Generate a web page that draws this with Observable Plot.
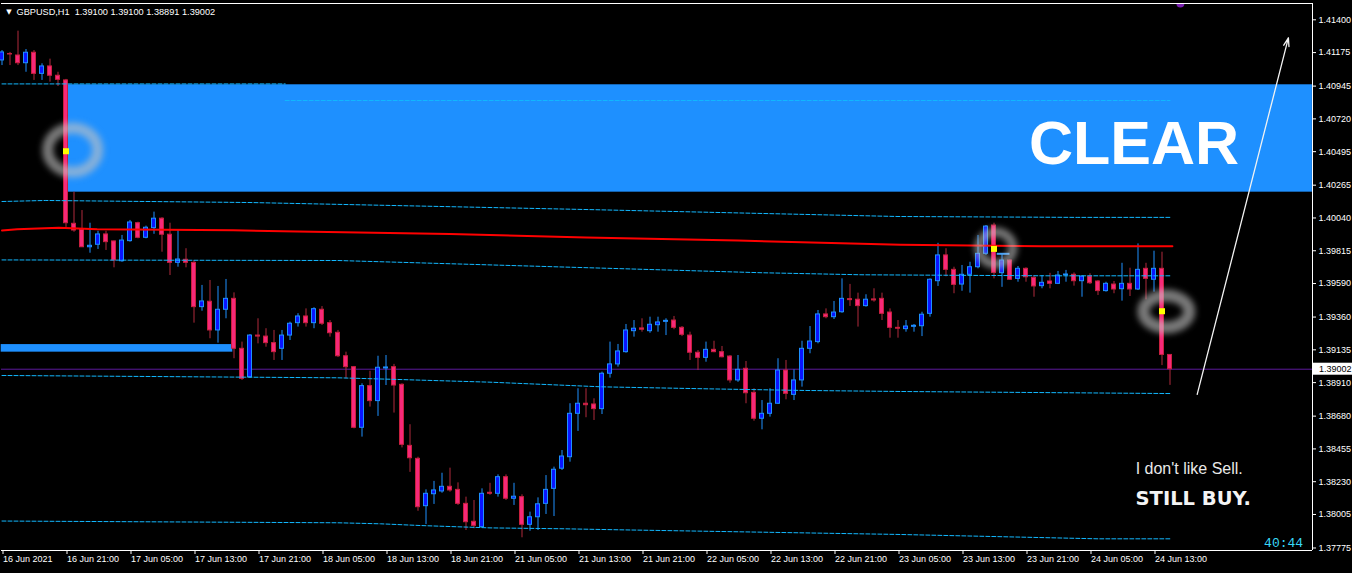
<!DOCTYPE html>
<html><head><meta charset="utf-8">
<script src="https://cdn.jsdelivr.net/npm/d3@7"></script>
<script src="https://cdn.jsdelivr.net/npm/@observablehq/plot@0.6"></script>
<style>
html,body{margin:0;padding:0;background:#000;overflow:hidden;}
#chart{position:absolute;left:0;top:0;}
</style></head><body><div id="chart"></div>
<script>
// ---------- DATA (GBPUSD H1, bar 0 = 16 Jun 2021 13:00) ----------
const symbol = "GBPUSD,H1";
const open = [1.41121,1.41165,1.41155,1.41102,1.41174,1.41029,1.41080,1.41016,1.40984,1.40000,
1.39959,1.39839,1.39856,1.39927,1.39879,1.39743,1.39881,1.40004,1.39904,1.39970,
1.40035,1.39925,1.39732,1.39753,1.39732,1.39428,1.39465,1.39268,1.39410,1.39485,
1.39142,1.38947,1.39233,1.39226,1.39181,1.39142,1.39233,1.39318,1.39364,1.39318,
1.39410,1.39318,1.39252,1.39091,1.39016,1.38600,1.38886,1.38783,1.39007,1.39016,
1.38895,1.38476,1.38387,1.38062,1.38144,1.38163,1.38195,1.38174,1.38078,1.37955,
1.37918,1.38154,1.38147,1.38261,1.38113,1.38124,1.37934,1.37986,1.38078,1.38181,
1.38319,1.38398,1.38696,1.38765,1.38760,1.38728,1.38971,1.39035,1.39119,1.39263,
1.39282,1.39263,1.39304,1.39327,1.39336,1.39286,1.39233,1.39115,1.39080,1.39135,
1.39119,1.39089,1.38925,1.39005,1.38840,1.38662,1.38696,1.38765,1.38993,1.38826,
1.38925,1.39142,1.39188,1.39378,1.39359,1.39393,1.39483,1.39479,1.39435,1.39481,
1.39485,1.39391,1.39286,1.39277,1.39293,1.39297,1.39382,1.39606,1.39783,1.39684,
1.39583,1.39650,1.39702,1.39794,1.39988,1.39661,1.39748,1.39622,1.39691,1.39629,
1.39572,1.39604,1.39588,1.39647,1.39650,1.39606,1.39638,1.39604,1.39538,1.39583,
1.39551,1.39588,1.39549,1.39691,1.39616,1.39691,1.39100];
const high = [1.41189,1.41176,1.41322,1.41196,1.41189,1.41098,1.41130,1.41040,1.40991,1.40217,
1.40091,1.40004,1.39949,1.39949,1.39882,1.39920,1.40023,1.40011,1.39984,1.40080,
1.40042,1.40004,1.39959,1.39829,1.39748,1.39577,1.39611,1.39570,1.39618,1.39526,
1.39188,1.39240,1.39348,1.39280,1.39268,1.39268,1.39325,1.39383,1.39416,1.39424,
1.39432,1.39336,1.39268,1.39119,1.39021,1.38902,1.38988,1.39091,1.39096,1.39035,
1.38902,1.38621,1.38398,1.38174,1.38232,1.38288,1.38323,1.38222,1.38124,1.38101,
1.38181,1.38219,1.38277,1.38277,1.38219,1.38140,1.38021,1.38119,1.38272,1.38330,
1.38444,1.38765,1.38868,1.38868,1.38799,1.38982,1.39188,1.39172,1.39309,1.39336,
1.39348,1.39359,1.39359,1.39348,1.39364,1.39295,1.39256,1.39130,1.39188,1.39194,
1.39158,1.39096,1.39096,1.39055,1.38868,1.38787,1.38868,1.39074,1.39062,1.38998,
1.39194,1.39295,1.39405,1.39416,1.39467,1.39622,1.39584,1.39524,1.39513,1.39554,
1.39524,1.39416,1.39336,1.39336,1.39309,1.39393,1.39622,1.39866,1.39829,1.39702,
1.39714,1.39736,1.39920,1.39988,1.40004,1.39794,1.39753,1.39707,1.39698,1.39645,
1.39645,1.39660,1.39673,1.39680,1.39663,1.39642,1.39657,1.39611,1.39599,1.39604,
1.39729,1.39695,1.39862,1.39729,1.39812,1.39805,1.39100];
const low = [1.41086,1.41086,1.41086,1.41040,1.40984,1.40984,1.40972,1.40942,1.39975,1.39942,
1.39837,1.39798,1.39824,1.39817,1.39698,1.39736,1.39874,1.39897,1.39897,1.39928,
1.39805,1.39645,1.39702,1.39698,1.39318,1.39400,1.39211,1.39181,1.39348,1.39074,
1.38925,1.38939,1.39176,1.39153,1.39062,1.39062,1.39199,1.39291,1.39291,1.39280,
1.39302,1.39222,1.39082,1.38936,1.38593,1.38536,1.38742,1.38678,1.38890,1.38701,
1.38462,1.38294,1.38027,1.37936,1.38074,1.38151,1.38158,1.38067,1.37895,1.37907,
1.37911,1.38137,1.38124,1.38101,1.38067,1.37845,1.37890,1.37895,1.38005,1.37991,
1.38307,1.38364,1.38575,1.38669,1.38650,1.38691,1.38941,1.39016,1.39112,1.39222,
1.39256,1.39249,1.39256,1.39233,1.39273,1.39226,1.39062,1.38993,1.39050,1.39115,
1.39080,1.38906,1.38912,1.38765,1.38645,1.38586,1.38673,1.38760,1.38792,1.38787,
1.38879,1.39108,1.39176,1.39348,1.39343,1.39386,1.39433,1.39291,1.39428,1.39462,
1.39336,1.39215,1.39215,1.39256,1.39256,1.39226,1.39359,1.39570,1.39636,1.39520,
1.39537,1.39524,1.39691,1.39783,1.39622,1.39564,1.39611,1.39599,1.39599,1.39496,
1.39554,1.39554,1.39583,1.39599,1.39572,1.39496,1.39583,1.39508,1.39531,1.39520,
1.39469,1.39501,1.39542,1.39478,1.39531,1.39027,1.38891];
const close = [1.41176,1.41162,1.41102,1.41174,1.41029,1.41080,1.41016,1.40988,1.40004,1.39954,
1.39839,1.39849,1.39927,1.39874,1.39748,1.39885,1.40009,1.39904,1.39973,1.40035,
1.39925,1.39732,1.39755,1.39732,1.39428,1.39467,1.39268,1.39410,1.39485,1.39142,
1.38936,1.39233,1.39226,1.39181,1.39119,1.39233,1.39314,1.39364,1.39318,1.39414,
1.39314,1.39249,1.39091,1.39016,1.38600,1.38886,1.38783,1.39012,1.39014,1.38890,
1.38483,1.38391,1.38055,1.38147,1.38170,1.38195,1.38170,1.38078,1.37952,1.37927,
1.38147,1.38147,1.38261,1.38113,1.38127,1.37934,1.37986,1.38075,1.38174,1.38312,
1.38403,1.38696,1.38765,1.38755,1.38728,1.38971,1.39035,1.39124,1.39268,1.39280,
1.39273,1.39307,1.39323,1.39334,1.39286,1.39238,1.39115,1.39080,1.39135,1.39119,
1.39084,1.38925,1.38998,1.38837,1.38662,1.38696,1.38765,1.38993,1.38833,1.38925,
1.39142,1.39192,1.39378,1.39359,1.39391,1.39485,1.39476,1.39435,1.39479,1.39474,
1.39382,1.39286,1.39280,1.39295,1.39300,1.39376,1.39616,1.39783,1.39684,1.39581,
1.39650,1.39702,1.39794,1.39981,1.39663,1.39748,1.39616,1.39691,1.39633,1.39570,
1.39595,1.39588,1.39645,1.39652,1.39606,1.39638,1.39592,1.39538,1.39588,1.39549,
1.39588,1.39549,1.39684,1.39622,1.39691,1.39100,1.39002];

// time axis: every 8th bar
const timeTickBars = [0,8,16,24,32,40,48,56,64,72,80,88,96,104,112,120,128,136,144];
const timeLabels = ["16 Jun 2021","16 Jun 21:00","17 Jun 05:00","17 Jun 13:00","17 Jun 21:00",
"18 Jun 05:00","18 Jun 13:00","18 Jun 21:00","21 Jun 05:00","21 Jun 13:00","21 Jun 21:00",
"22 Jun 05:00","22 Jun 13:00","22 Jun 21:00","23 Jun 05:00","23 Jun 13:00","23 Jun 21:00",
"24 Jun 05:00","24 Jun 13:00"];
const priceTicks = [1.41400,1.41175,1.40945,1.40720,1.40495,1.40265,1.40040,1.39815,1.39590,
1.39360,1.39135,1.38910,1.38680,1.38455,1.38230,1.38005,1.37775];

// supply zone (blue rectangle) and small blue level on the left
const zoneBars = [8.275, 163.8];
const zonePrices = [1.40217, 1.40954];
const leftLevelBars = [-0.1, 28.85];
const leftLevelPrices = [1.39119, 1.39171];

// red level
const redBars   = [0, 1.9, 7.1, 11.9, 28.9, 36.9, 56, 73, 92, 112.3, 130, 146.3];
const redPrices = [1.39954,1.39963,1.39973,1.39963,1.39956,1.39947,1.39930,1.39906,1.39885,1.39856,1.39846,1.39846];

// dashed cyan levels
const dashA = {bars:[0, 35.4], prices:[1.40960, 1.40960]};
const dashA2 = {bars:[35.4, 146], prices:[1.40846, 1.40846]};
const dashB = {bars:[0, 5.4, 31, 73, 112, 134.4, 146], prices:[1.40153,1.40160,1.40146,1.40098,1.40050,1.40044,1.40044]};
const dashC = {bars:[0, 42, 95, 107.5, 131, 146], prices:[1.39752,1.39748,1.39664,1.39650,1.39643,1.39643]};
const dashD = {bars:[0, 42, 48.6, 61, 75, 88.5, 100.5, 112.5, 146], prices:[1.38959,1.38943,1.38933,1.38913,1.38881,1.38867,1.38856,1.38849,1.38835]};
const dashE = {bars:[0, 42, 47.3, 52.4, 61, 70, 77, 112, 137, 146], prices:[1.37960,1.37948,1.37941,1.37929,1.37913,1.37907,1.37900,1.37868,1.37838,1.37838]};

// markers
const yellowBars = [8, 124, 145];
const yellowPrices = [1.40498, 1.39828, 1.39400];
const ringBars = [8.9, 124.3, 145.6];
const ringPrices = [1.40503, 1.39830, 1.39395];
const shortLevelBars = [124.4, 126.0];
const shortLevelPrice = 1.39794;

// arrow and texts
const arrowFrom = {bar: 149.4, price: 1.38829};
const arrowTo = {bar: 160.8, price: 1.41276};
const texts = [
  {t: "CLEAR", bar: 141.5, price: 1.40412},
  {t: "I don't like Sell.", bar: 148.4, price: 1.38284},
  {t: "STILL BUY.", bar: 148.9, price: 1.38067},
  {t: "40:44", bar: 160.2, price: 1.37781}
];

// ---------- BUILD ----------
const last = open.length - 1;
const candles = open.map((o, i) => ({i, o, h: high[i], l: low[i], c: close[i], up: close[i] >= o}));
const toRows = (d, name) => d.bars.map((b, k) => ({b, p: d.prices[k], name}));
const dashRows = [
  ...toRows(dashA, "A"), ...toRows(dashA2, "A2"), ...toRows(dashB, "B"),
  ...toRows(dashC, "C"), ...toRows(dashD, "D"), ...toRows(dashE, "E")
];
const redRows = redBars.map((b, k) => ({b, p: redPrices[k]}));
const labelOf = new Map(timeTickBars.map((b, k) => [b, timeLabels[k]]));
const xDomain = [-0.0625, 163.8125];
const yDomain = [1.377578, 1.415119];
const pxBar = (xDomain[1] - xDomain[0]) / 1311;        // bar units per pixel
const pxPrice = (yDomain[1] - yDomain[0]) / 547;        // price units per pixel
const header = `${symbol}\u00a0 ${open[last].toFixed(5)} ${high[last].toFixed(5)} ${low[last].toFixed(5)} ${close[last].toFixed(5)}`;

const BULL_FILL = "#0a14ff", BULL_LINE = "#1e90ff";
const BEAR_FILL = "#f72879", BEAR_LINE = "#c8203f", BEAR_WICK = "#b02a3c";
const W = 0.25;
const SANS = "'Liberation Sans', Arial, sans-serif";

const plot = Plot.plot({
  width: 1352, height: 573,
  marginLeft: 1, marginRight: 40, marginTop: 3, marginBottom: 23,
  x: {type: "linear", domain: xDomain, axis: null},
  y: {type: "linear", domain: yDomain, axis: null},
  style: {background: "#000", color: "#fff", fontFamily: SANS, fontSize: "9px"},
  marks: [
    // background objects
    Plot.rect([0], {x1: zoneBars[0], x2: zoneBars[1], y1: zonePrices[0], y2: zonePrices[1], fill: "#1e90ff"}),
    Plot.rect([0], {x1: leftLevelBars[0], x2: leftLevelBars[1], y1: leftLevelPrices[0], y2: leftLevelPrices[1], fill: "#1e90ff"}),
    // current price line
    Plot.ruleY([close[last]], {stroke: "#5c1a9c", strokeWidth: 1}),
    // wicks
    Plot.ruleX(candles, {x: "i", y1: "l", y2: "h", stroke: d => d.up ? BULL_LINE : BEAR_WICK, strokeWidth: 1}),
    // bodies
    Plot.rect(candles, {x1: d => d.i - W, x2: d => d.i + W, y1: "o", y2: "c",
      fill: d => d.up ? BULL_FILL : BEAR_FILL, stroke: d => d.up ? BULL_LINE : BEAR_LINE, strokeWidth: 1}),
    // indicator levels
    Plot.line(dashRows, {x: "b", y: "p", z: "name", stroke: "#12b8ff", strokeWidth: 1, strokeDasharray: "4,2"}),
    Plot.line(redRows, {x: "b", y: "p", stroke: "#ff0000", strokeWidth: 2}),
    Plot.ruleY([shortLevelPrice], {x1: shortLevelBars[0], x2: shortLevelBars[1], stroke: "#3aa0ff", strokeWidth: 2}),
    // markers
    Plot.dot(yellowBars.map((b, k) => ({b, p: yellowPrices[k]})), {x: "b", y: "p", symbol: "square", r: 3.4, fill: "#ffff00", stroke: "none"}),
    Plot.dot([0], {x: 147.3, y: yDomain[1], r: 4, fill: "#7a1fb0", stroke: "none", clip: true}),
    // arrow
    Plot.arrow([0], {x1: arrowFrom.bar, y1: arrowFrom.price, x2: arrowTo.bar, y2: arrowTo.price, stroke: "#f2f2f2", strokeWidth: 1.3, headLength: 10, headAngle: 36}),
    // texts
    Plot.text([texts[0]], {x: "bar", y: "price", text: "t", fill: "#ffffff", fontSize: 61, fontWeight: 700, lineAnchor: "bottom", textAnchor: "middle", fontFamily: SANS}),
    Plot.text([texts[1]], {x: "bar", y: "price", text: "t", fill: "#e8e8e8", fontSize: 16, lineAnchor: "bottom", textAnchor: "middle", fontFamily: SANS}),
    Plot.text([texts[2]], {x: "bar", y: "price", text: "t", fill: "#f4f4f4", fontSize: 19.5, fontWeight: 700, lineAnchor: "bottom", textAnchor: "middle", fontFamily: "'DejaVu Sans', sans-serif"}),
    Plot.text([texts[3]], {x: "bar", y: "price", text: "t", fill: "#38d8f8", fontSize: 13, lineAnchor: "bottom", textAnchor: "middle", fontFamily: "'Liberation Mono', 'DejaVu Sans Mono', monospace"}),
    // header
    Plot.text(["\u25BC"], {frameAnchor: "top-left", dx: 7.5, dy: 5.5, lineAnchor: "top", textAnchor: "middle", fill: "#fff", fontSize: 7, fontFamily: "'DejaVu Sans', sans-serif"}),
    Plot.text([header], {frameAnchor: "top-left", dx: 15, dy: 5.3, lineAnchor: "top", textAnchor: "start", fill: "#fff", fontSize: 9.2}),
    // frame (top, bottom, right)
    Plot.ruleY([yDomain[0], yDomain[1]], {stroke: "#fff", strokeWidth: 1}),
    Plot.ruleX([xDomain[1]], {stroke: "#fff", strokeWidth: 1}),
    // axes
    Plot.axisY(priceTicks, {anchor: "right", tickSize: 3, tickPadding: 3, tickFormat: d => d.toFixed(5), fill: "#fff", stroke: "#fff", fontSize: 9}),
    Plot.axisX(timeTickBars, {anchor: "bottom", tickSize: 4, tickPadding: 1.5, tickFormat: d => labelOf.get(d), textAnchor: "start", dx: 1, fill: "#fff", stroke: "#fff", fontSize: 9}),
    // current price tag in the right margin
    Plot.rect([close[last]], {x1: xDomain[1] + 1 * pxBar, x2: xDomain[1] + 41 * pxBar, y1: d => d - 6 * pxPrice, y2: d => d + 6 * pxPrice, fill: "#ffffff"}),
    Plot.text([close[last]], {x: xDomain[1] + 6.5 * pxBar, y: d => d, text: d => d.toFixed(5), textAnchor: "start", fill: "#000", fontSize: 9})
  ]
});

document.getElementById("chart").appendChild(plot);

// glow rings, positioned with the plot's own scales
const X = plot.scale("x"), Y = plot.scale("y");
const svg = d3.select(plot);
const defs = svg.append("defs");
defs.append("filter").attr("id", "ringblur").attr("x", "-50%").attr("y", "-50%").attr("width", "200%").attr("height", "200%")
  .append("feGaussianBlur").attr("stdDeviation", 3.4);
const ringStyle = [{rx: 25, ry: 22, w: 11}, {rx: 17, ry: 16, w: 9}, {rx: 23, ry: 16, w: 12}];
const firstDot = svg.select("g[aria-label=dot]").node();
const gRing = svg.insert("g", () => firstDot).attr("filter", "url(#ringblur)");
ringBars.forEach((b, k) => {
  gRing.append("ellipse")
    .attr("cx", X.apply(b)).attr("cy", Y.apply(ringPrices[k]))
    .attr("rx", ringStyle[k].rx).attr("ry", ringStyle[k].ry)
    .attr("fill", "none").attr("stroke", "#c4c4c4").attr("stroke-opacity", 0.62)
    .attr("stroke-width", ringStyle[k].w);
});
</script>
</body></html>
